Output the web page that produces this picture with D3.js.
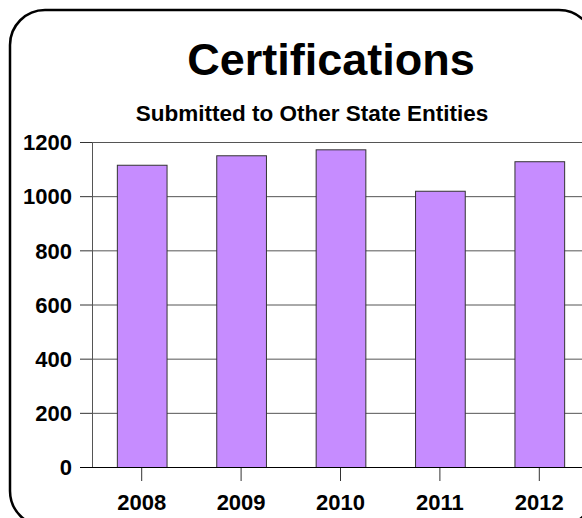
<!DOCTYPE html>
<html>
<head>
<meta charset="utf-8">
<script src="https://cdn.jsdelivr.net/npm/d3@7"></script>
<style>
  body { margin: 0; background: #fff; overflow: hidden; }
  svg { display: block; }
  text { font-family: Arial, "Liberation Sans", sans-serif; font-weight: bold; fill: #000; }
</style>
</head>
<body>
<script>
const years = ['2008', '2009', '2010', '2011', '2012'];
const counts = [1116, 1151, 1173, 1020, 1129];
const yTicks = [0, 200, 400, 600, 800, 1000, 1200];

const svgWidth = 582;
const svgHeight = 518;
const margin = { left: 92, top: 142, bottom: 51 };
const plotWidth = 497;
const plotHeight = svgHeight - margin.top - margin.bottom;

const svg = d3.select('body')
.append('svg')
.attr('width', svgWidth)
.attr('height', svgHeight)

// rounded frame, runs off the right and bottom edges
svg.append('rect')
.attr('x', 10).attr('y', 10)
.attr('width', 584).attr('height', 516)
.attr('rx', 35).attr('ry', 35)
.attr('fill', 'none')
.attr('stroke', '#000')
.attr('stroke-width', 2.5)

svg.append('text')
.attr('x', 331).attr('y', 75)
.attr('text-anchor', 'middle')
.style('font-size', '45px')
.text('Certifications')

svg.append('text')
.attr('x', 312).attr('y', 121)
.attr('text-anchor', 'middle')
.style('font-size', '22.5px')
.text('Submitted to Other State Entities')

const x = d3.scaleBand()
.domain(years)
.range([0, plotWidth])
.paddingInner(0.5)
.paddingOuter(0.25)

const y = d3.scaleLinear()
.domain([0, 1200])
.range([plotHeight, 0])

const g = svg.append('g')
.attr('transform', `translate(${margin.left}, ${margin.top})`)

// gridlines
g.selectAll('.grid')
.data(yTicks.filter((d) => d > 0)).enter()
.append('line')
.attr('class', 'grid')
.attr('x1', 0).attr('x2', plotWidth)
.attr('y1', (d) => y(d) + 0.5).attr('y2', (d) => y(d) + 0.5)
.attr('stroke', '#555')
.attr('stroke-width', 1)

// left plot edge
g.append('line')
.attr('x1', 0.5).attr('x2', 0.5)
.attr('y1', 0).attr('y2', plotHeight)
.attr('stroke', '#555')

g.selectAll('.bar')
.data(counts).enter()
.append('rect')
.attr('class', 'bar')
.attr('x', (d, i) => x(years[i]) + 0.5)
.attr('y', (d) => y(d) + 0.5)
.attr('width', x.bandwidth())
.attr('height', (d) => plotHeight - y(d))
.attr('fill', '#c68cff')
.attr('stroke', '#333')
.attr('stroke-width', 1)

// y axis
const yAxis = g.append('g')
.call(d3.axisLeft(y).tickValues(yTicks).tickSize(12).tickPadding(8).tickFormat(d3.format('d')))
yAxis.select('.domain').remove()
yAxis.selectAll('line').attr('stroke', '#333')
yAxis.selectAll('text').style('font-size', '22px').attr('dy', '0.35em')

// x axis
const xAxis = g.append('g')
.attr('transform', `translate(0, ${plotHeight})`)
.call(d3.axisBottom(x).tickSize(14).tickPadding(13))
xAxis.select('.domain').remove()
xAxis.selectAll('line').attr('stroke', '#333')
xAxis.selectAll('text').style('font-size', '22px')

g.append('line')
.attr('x1', -12).attr('x2', plotWidth)
.attr('y1', plotHeight + 0.5).attr('y2', plotHeight + 0.5)
.attr('stroke', '#000')
</script>
</body>
</html>
